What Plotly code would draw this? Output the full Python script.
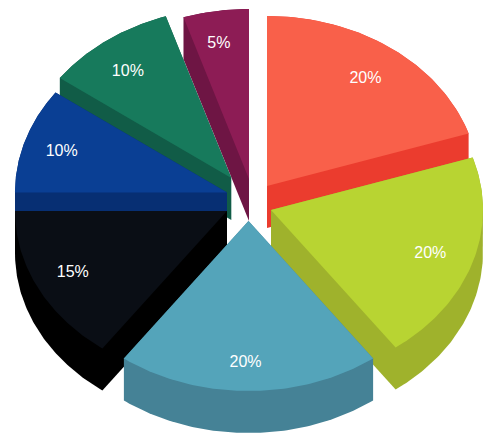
import numpy as np
import plotly.graph_objects as go

# slice data, clockwise from 12 o'clock
values = [20, 20, 20, 15, 10, 10, 5]
labels = ['20%', '20%', '20%', '15%', '10%', '10%', '5%']
top_colors = ['#F9604A', '#B8D432', '#54A4BA', '#0A0E15', '#0A3F94', '#177A5C', '#8D1C55']
side_colors = ['#EB3C2E', '#9FB22C', '#458296', '#000000', '#072F73', '#115C47', '#6E1544']

# where the tip of each exploded slice sits, in pixels
tip_x = [267, 271, 248.5, 227, 227, 231.3, 249]
tip_y = [186, 210, 221, 211, 192.5, 178, 179]
label_dx = [0, 0, -3, -5, -6, -5, -4]
label_dy = [2, 2, 8, 1, 1, 3, -2]

RX, RY = 212, 170   # tilted pie is an ellipse
DEPTH = 42
LABEL_R = 0.79

# back slices first so the front ones cover them
draw_order = [6, 0, 5, 4, 3, 1, 2]

edges = np.cumsum([0] + values) / sum(values) * 2 * np.pi


def hull(points):
    # monotone chain, the extruded wedge is the hull of its top and bottom faces
    points = sorted(set(points))

    def half(pts):
        out = []
        for p in pts:
            while len(out) > 1 and ((out[-1][0] - out[-2][0]) * (p[1] - out[-2][1])
                                    - (out[-1][1] - out[-2][1]) * (p[0] - out[-2][0])) <= 0:
                out.pop()
            out.append(p)
        return out[:-1]

    return half(points) + half(points[::-1])


def add_poly(fig, x, y, color):
    fig.add_trace(go.Scatter(x=x, y=y, mode='lines', fill='toself', fillcolor=color,
                             line=dict(width=0, color=color),
                             hoverinfo='skip', showlegend=False))


fig = go.Figure()

for i in draw_order:
    t = np.linspace(edges[i], edges[i + 1], 80)
    face_x = np.concatenate([[tip_x[i]], tip_x[i] + RX * np.sin(t)])
    face_y = np.concatenate([[tip_y[i]], tip_y[i] - RY * np.cos(t)])

    # side walls as one shape, so there are no seams
    corners = [(float(a), float(b)) for a, b in zip(face_x, face_y)]
    corners += [(a, b + DEPTH) for a, b in corners]
    outline = hull(corners)
    add_poly(fig, [p[0] for p in outline] + [outline[0][0]],
             [p[1] for p in outline] + [outline[0][1]], side_colors[i])

    # top face
    add_poly(fig, np.append(face_x, face_x[0]), np.append(face_y, face_y[0]), top_colors[i])

mid = (edges[:-1] + edges[1:]) / 2
text_x = np.array(tip_x) + LABEL_R * RX * np.sin(mid) + label_dx
text_y = np.array(tip_y) - LABEL_R * RY * np.cos(mid) + label_dy
fig.add_trace(go.Scatter(x=text_x, y=text_y, mode='text', text=labels,
                         textposition='middle center',
                         textfont=dict(family='Liberation Sans', size=16, color='#FFFFFF'),
                         hoverinfo='skip', showlegend=False))

fig.update_layout(width=500, height=444, margin=dict(l=0, r=0, t=0, b=0),
                  paper_bgcolor='white', plot_bgcolor='white',
                  xaxis=dict(range=[0, 500], visible=False),
                  yaxis=dict(range=[444, 0], visible=False))

fig.write_html("out.html", config=dict(displayModeBar=False),
               post_script="document.body.style.margin='0';document.body.style.overflow='hidden';")
